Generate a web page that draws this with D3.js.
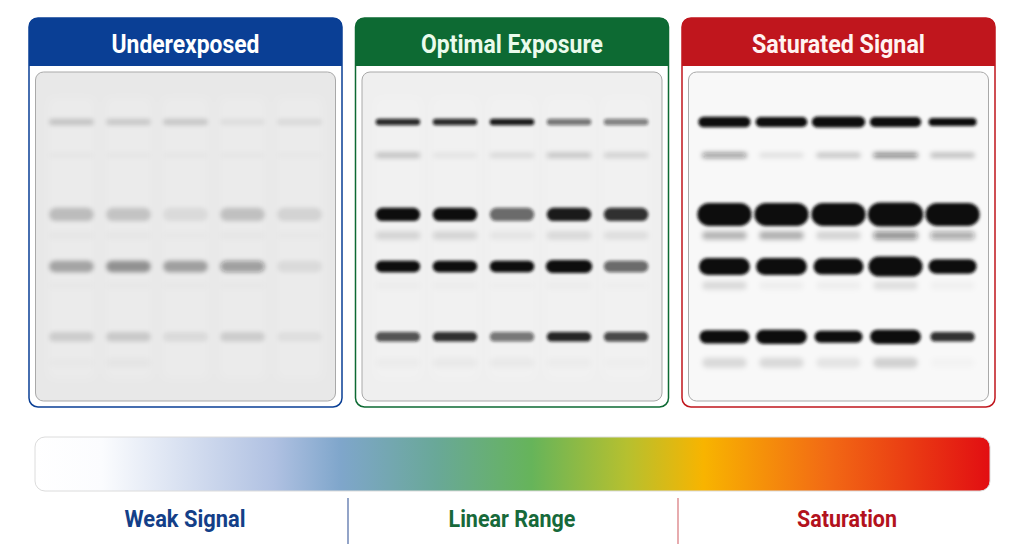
<!DOCTYPE html>
<html>
<head>
<meta charset="utf-8">
<script src="https://cdn.jsdelivr.net/npm/d3@7"></script>
<style>
  html, body { margin: 0; padding: 0; background: #ffffff; }
  svg { display: block; }
  .hdr { font-family: Roboto, "Liberation Sans", sans-serif; font-weight: 700; }
</style>
</head>
<body>
<svg id="chart" width="1024" height="559"></svg>
<script>
// ---------------- DATA ----------------
const panelTitles = ["Underexposed", "Optimal Exposure", "Saturated Signal"];
const lanes = ["1", "2", "3", "4", "5"];
// relative migration distance of each band row (0 = top of gel, 1 = bottom)
const migration = [0.152, 0.253, 0.433, 0.497, 0.591, 0.649, 0.805, 0.884];
// signal per row (rows) and lane (columns); values > 1 are saturated
const underexposed = [
  [0.16, 0.14, 0.15, 0.05, 0.07],
  [0.025, 0.025, 0.025, 0.025, 0.02],
  [0.20, 0.17, 0.07, 0.18, 0.10],
  [0.02, 0.02, 0.01, 0.02, 0.01],
  [0.30, 0.38, 0.32, 0.36, 0.07],
  [0.01, 0.01, 0.01, 0.01, 0.00],
  [0.13, 0.14, 0.07, 0.13, 0.05],
  [0.01, 0.025, 0.00, 0.00, 0.00]
];
const optimal = [
  [0.88, 0.88, 0.95, 0.55, 0.50],
  [0.22, 0.06, 0.10, 0.20, 0.15],
  [1.00, 1.00, 0.60, 0.95, 0.85],
  [0.12, 0.12, 0.05, 0.10, 0.08],
  [1.00, 1.00, 1.00, 1.30, 0.60],
  [0.02, 0.02, 0.01, 0.02, 0.01],
  [0.70, 0.85, 0.55, 0.90, 0.75],
  [0.02, 0.03, 0.03, 0.02, 0.01]
];
const saturated = [
  [2.5, 2.4, 2.8, 2.3, 1.6],
  [0.45, 0.10, 0.22, 0.50, 0.25],
  [3.0, 3.0, 3.0, 3.3, 3.0],
  [0.28, 0.30, 0.15, 0.45, 0.35],
  [2.2, 2.2, 2.0, 3.0, 1.6],
  [0.12, 0.04, 0.04, 0.10, 0.03],
  [2.0, 2.2, 1.6, 2.2, 0.85],
  [0.12, 0.12, 0.08, 0.16, 0.02]
];
const scaleLabels = ["Weak Signal", "Linear Range", "Saturation"];

// ---------------- STYLE ----------------
const panelData = [underexposed, optimal, saturated];
const headerColors = ["#0a3f95", "#0d6a33", "#c0161d"];
const headerText = ["#ffffff", "#eafbec", "#fff3f1"];
const titleWidths = [148, 182, 173];
const gelBg = ["#e8e8e8", "#efefef", "#f8f8f8"];
const mainBlur = [2.0, 1.5, 1.4];
const rowBaseH = [6.5, 5, 13.3, 8, 11.5, 8, 9.5, 10];  // visual thickness per row
const rowSoft = [false, true, false, true, false, true, false, true];
const labelColors = ["#143f88", "#17693a", "#b3121d"];
const labelWidths = [121, 127, 100];
const labelCenters = [185, 512, 847];

const svg = d3.select("#chart");
const defs = svg.append("defs");
mainBlur.forEach((sd, i) => {
  defs.append("filter").attr("id", "blurMain" + i)
    .attr("x", "-10%").attr("y", "-10%").attr("width", "120%").attr("height", "120%")
    .append("feGaussianBlur").attr("stdDeviation", sd);
});
defs.append("filter").attr("id", "blurSoft")
  .attr("x", "-10%").attr("y", "-10%").attr("width", "120%").attr("height", "120%")
  .append("feGaussianBlur").attr("stdDeviation", 2.4);
defs.append("filter").attr("id", "blurLane")
  .attr("x", "-20%").attr("y", "-10%").attr("width", "140%").attr("height", "120%")
  .append("feGaussianBlur").attr("stdDeviation", 5);

// panel layout
const panelX = d3.scalePoint().domain(panelTitles).range([29, 682]);
const panelW = 313, panelTop = 18, panelBottom = 407, headerH = 48;

panelTitles.forEach((title, pi) => {
  const x0 = panelX(title);
  const g = svg.append("g");
  // outer box
  g.append("rect").attr("x", x0).attr("y", panelTop).attr("width", panelW)
    .attr("height", panelBottom - panelTop).attr("rx", 9)
    .attr("fill", "#ffffff").attr("stroke", headerColors[pi]).attr("stroke-width", 1.5);
  // header with rounded top corners
  const r = 9, x1 = x0 + panelW, yb = panelTop + headerH;
  g.append("path")
    .attr("d", `M${x0},${yb} L${x0},${panelTop + r} Q${x0},${panelTop} ${x0 + r},${panelTop} L${x1 - r},${panelTop} Q${x1},${panelTop} ${x1},${panelTop + r} L${x1},${yb} Z`)
    .attr("fill", headerColors[pi]);
  g.append("text").attr("class", "hdr")
    .attr("x", x0 + panelW / 2).attr("y", panelTop + 35)
    .attr("text-anchor", "middle").attr("font-size", 25)
    .attr("textLength", titleWidths[pi]).attr("lengthAdjust", "spacingAndGlyphs")
    .attr("fill", headerText[pi]).text(title);

  // gel
  const gl = x0 + 6.5, gr = x0 + panelW - 6.5, gt = 72, gb = 401;
  g.append("rect").attr("x", gl).attr("y", gt).attr("width", gr - gl).attr("height", gb - gt)
    .attr("rx", 8).attr("fill", gelBg[pi]).attr("stroke", "#a9a9a9").attr("stroke-width", 1);

  const xLane = d3.scaleBand().domain(lanes).range([gl + 8, gr - 8]).paddingInner(0.22).paddingOuter(0.1);
  const yMig = d3.scaleLinear().domain([0, 1]).range([gt, gb]);
  const op = d3.scaleLinear().domain([0, 1]).range([0, 1]).clamp(true);

  // faint lane tracks
  const clipId = "clip" + pi;
  defs.append("clipPath").attr("id", clipId).append("rect")
    .attr("x", gl + 1).attr("y", gt + 1).attr("width", gr - gl - 2).attr("height", gb - gt - 2).attr("rx", 7);
  const inner = g.append("g").attr("clip-path", `url(#${clipId})`);
  inner.append("g").attr("filter", "url(#blurLane)")
    .selectAll("rect").data(lanes).join("rect")
    .attr("x", d => xLane(d)).attr("y", yMig(0.08))
    .attr("width", xLane.bandwidth()).attr("height", yMig(0.93) - yMig(0.08))
    .attr("fill", "#ffffff").attr("opacity", pi === 2 ? 0.0 : 0.15);

  const bands = [];
  panelData[pi].forEach((row, ri) => {
    row.forEach((s, li) => bands.push({ ri, lane: lanes[li], s }));
  });
  ["blurMain" + pi, "blurSoft"].forEach((fid, k) => {
    const subset = bands.filter(b => rowSoft[b.ri] === (k === 1) && b.s > 0);
    const w = b => xLane.bandwidth() * (1 + 0.3 * (Math.sqrt(Math.max(1, b.s)) - 1));
    const h = b => rowBaseH[b.ri] * Math.sqrt(Math.max(1, b.s));
    inner.append("g").attr("filter", `url(#${fid})`)
      .selectAll("rect").data(subset).join("rect")
      .attr("x", b => xLane(b.lane) + xLane.bandwidth() / 2 - w(b) / 2)
      .attr("y", b => yMig(migration[b.ri]) - h(b) / 2)
      .attr("width", w).attr("height", h)
      .attr("rx", b => Math.min(h(b) / 2, w(b) / 2)).attr("ry", b => h(b) / 2)
      .attr("fill", "#111111")
      .attr("opacity", b => op(b.s));
  });
});

// ---------------- GRADIENT SCALE ----------------
const grad = defs.append("linearGradient").attr("id", "sigGrad").attr("x1", "0%").attr("x2", "100%");
const stops = [
  [0.00, "#ffffff"], [0.07, "#fbfcfe"], [0.25, "#b0c1e2"], [0.32, "#7fa6cb"],
  [0.42, "#69a898"], [0.52, "#66b45a"], [0.62, "#b6c02f"], [0.70, "#f8b400"],
  [0.83, "#f26a14"], [1.00, "#e20e12"]
];
grad.selectAll("stop").data(stops).join("stop")
  .attr("offset", d => d[0]).attr("stop-color", d => d[1]);

const barX = d3.scaleLinear().domain([0, 1]).range([35, 990]);
svg.append("rect").attr("x", barX(0)).attr("y", 437).attr("width", barX(1) - barX(0))
  .attr("height", 54).attr("rx", 10).attr("fill", "url(#sigGrad)")
  .attr("stroke", "#dcdcdc").attr("stroke-width", 1);

svg.selectAll("text.lab").data(scaleLabels).join("text")
  .attr("class", "hdr lab")
  .attr("x", (d, i) => labelCenters[i]).attr("y", 527)
  .attr("text-anchor", "middle").attr("font-size", 23.5)
  .attr("textLength", (d, i) => labelWidths[i]).attr("lengthAdjust", "spacingAndGlyphs")
  .attr("fill", (d, i) => labelColors[i]).text(d => d);

const dividers = [[348, "#4b68a3"], [678, "#d77479"]];
svg.selectAll("line.div").data(dividers).join("line")
  .attr("x1", d => d[0]).attr("x2", d => d[0]).attr("y1", 498).attr("y2", 544)
  .attr("stroke", d => d[1]).attr("stroke-width", 1.2);
</script>
</body>
</html>
